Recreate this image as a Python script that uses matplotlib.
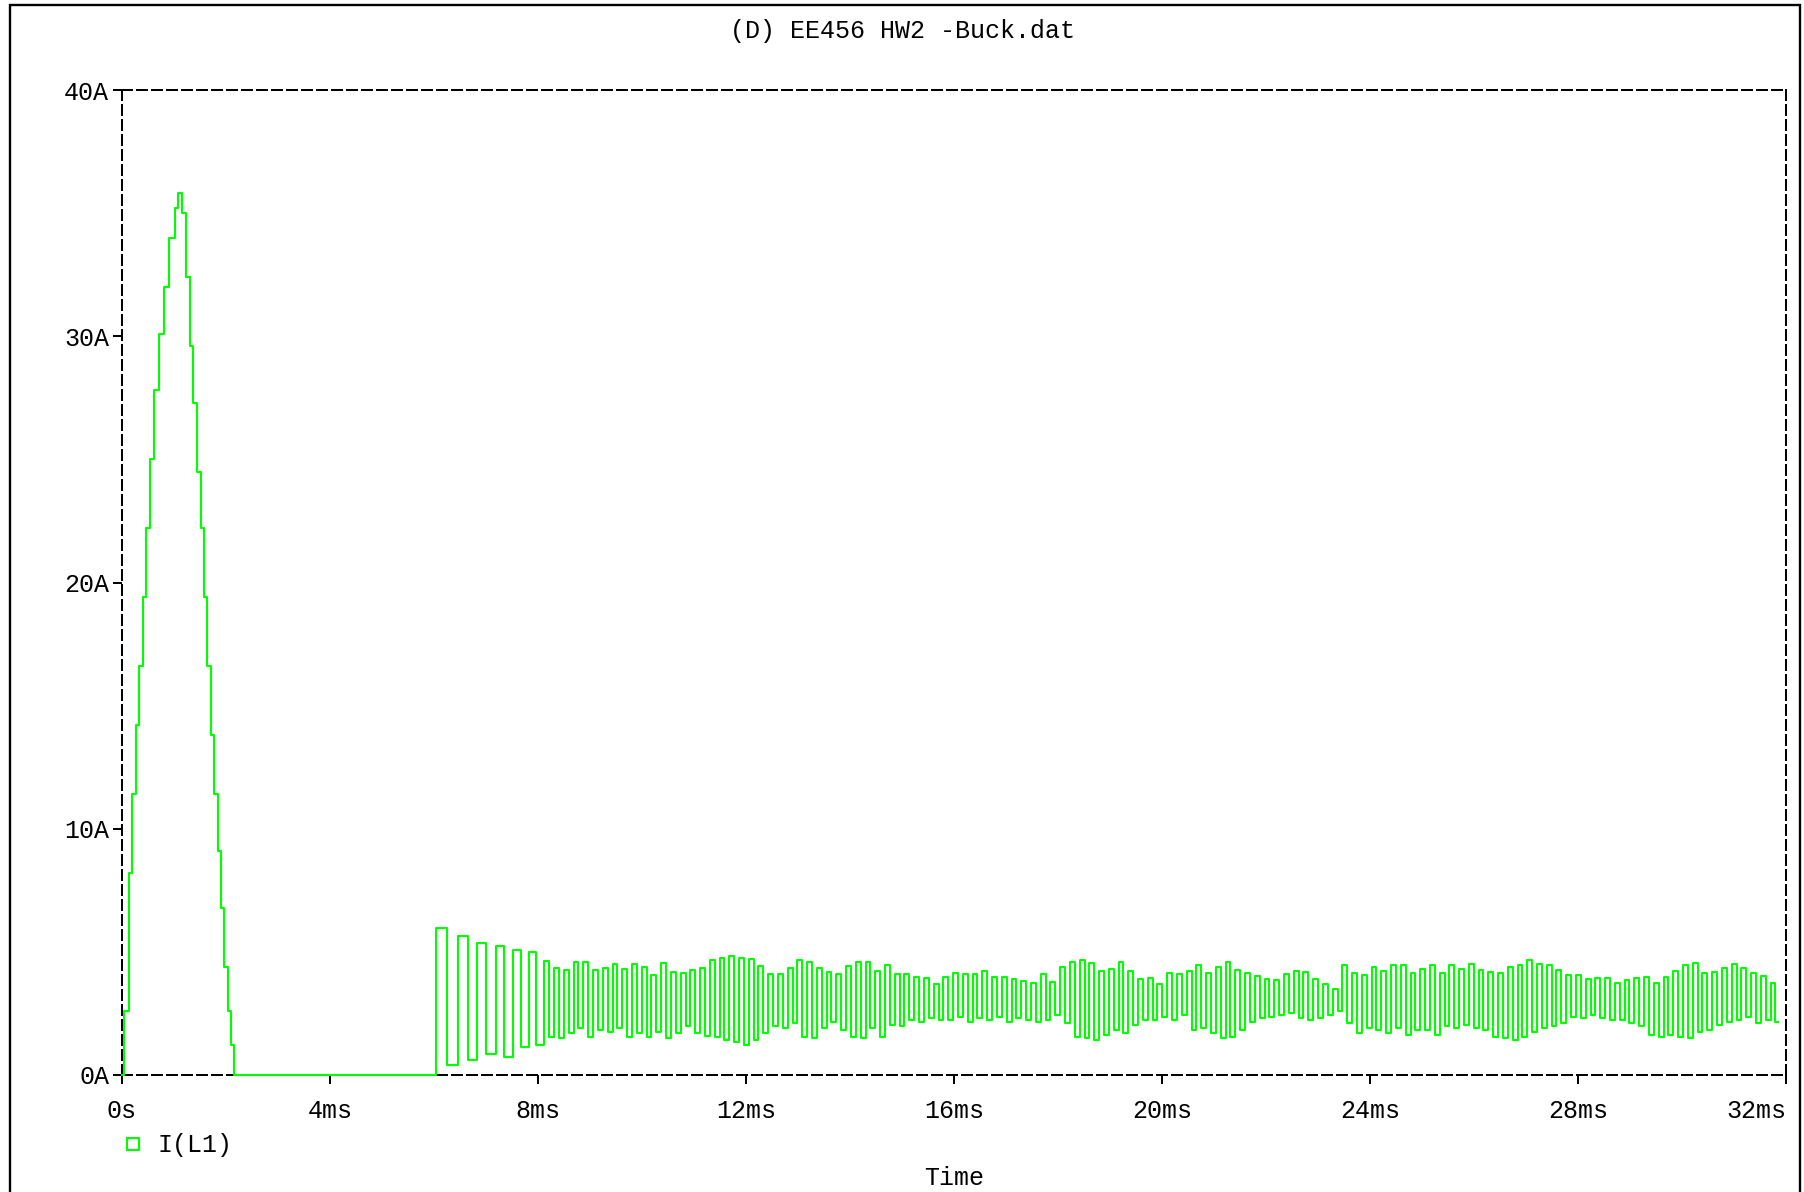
import numpy as np
import matplotlib
matplotlib.use("Agg")
import matplotlib.pyplot as plt
from matplotlib.lines import Line2D
from matplotlib.patches import Rectangle

plt.rcParams['font.family'] = ['Liberation Mono', 'DejaVu Sans Mono']

# start-up current spike (ms, A)
spike_t = [0.0, 0.044, 0.133, 0.20, 0.27, 0.33, 0.40, 0.47, 0.53, 0.62, 0.71,
           0.80, 0.91, 1.02, 1.085, 1.15, 1.24, 1.31, 1.37, 1.44, 1.51, 1.57,
           1.64, 1.71, 1.77, 1.84, 1.90, 1.97, 2.04, 2.10, 2.15]
spike_i = [0.0, 2.6, 8.2, 11.4, 14.2, 16.6, 19.4, 22.2, 25.0, 27.8, 30.1,
           32.0, 34.0, 35.2, 35.8, 35.0, 32.4, 29.6, 27.3, 24.5, 22.2, 19.4,
           16.6, 13.8, 11.4, 9.1, 6.8, 4.4, 2.6, 1.2, 0.0]

# ripple after restart: peak and trough of each cycle (A)
osc_hi = [5.96, 5.65, 5.35, 5.24, 5.08, 4.98, 4.61, 4.33, 4.27, 4.58, 4.58, 4.27,
          4.33, 4.50, 4.31, 4.50, 4.40, 4.07, 4.54, 4.20, 4.13, 4.27, 4.33,
          4.65, 4.74, 4.84, 4.74, 4.70, 4.43, 4.09, 4.09, 4.34, 4.65, 4.57, 4.34,
          4.17, 4.10, 4.43, 4.57, 4.57, 4.24, 4.47, 4.10, 4.09, 4.00, 3.93, 3.68,
          3.97, 4.13, 4.10, 4.10, 4.24, 4.00, 4.00, 3.89, 3.82, 3.75,
          4.09, 3.79, 4.40, 4.57, 4.65, 4.54, 4.24, 4.31, 4.57, 4.24, 3.89, 3.93,
          3.70, 4.16, 4.09, 4.24, 4.47, 4.16, 4.40, 4.57, 4.27, 4.16, 4.02, 3.89,
          3.86, 4.09, 4.24, 4.17, 3.89, 3.70, 3.48, 4.47, 4.16, 4.06, 4.40, 4.24, 4.47,
          4.47, 4.13, 4.29, 4.47, 4.13, 4.47, 4.29, 4.51, 4.27, 4.20, 4.13, 4.40,
          4.47, 4.65, 4.51, 4.47, 4.27, 4.06, 4.06, 3.89, 3.93, 3.93, 3.75, 3.86,
          3.93, 4.00, 3.75, 3.97, 4.24, 4.47, 4.54, 4.13, 4.20, 4.34, 4.51, 4.34,
          4.13, 4.02, 3.75]
osc_lo = [0.40, 0.60, 0.85, 0.74, 1.15, 1.22, 1.56, 1.49, 1.69, 1.90, 1.56, 1.83,
          1.76, 1.90, 1.56, 1.69, 1.56, 1.76, 1.49, 1.69, 1.97, 1.69, 1.60,
          1.56, 1.42, 1.35, 1.22, 1.42, 1.69, 1.97, 1.90, 2.10, 1.56, 1.49, 1.90,
          2.17, 1.83, 1.56, 1.49, 1.90, 1.56, 2.03, 1.97, 2.24, 2.17, 2.30, 2.24,
          2.24, 2.37, 2.17, 2.30, 2.24, 2.37, 2.17, 2.30, 2.24, 2.17,
          2.24, 2.44, 2.10, 1.56, 1.49, 1.42, 1.63, 1.83, 1.69, 2.03, 2.24, 2.24,
          2.37, 2.24, 2.44, 1.83, 1.90, 1.69, 1.49, 1.56, 1.83, 2.17, 2.30, 2.37,
          2.44, 2.51, 2.30, 2.24, 2.30, 2.44, 2.58, 2.10, 1.69, 1.90, 1.83, 1.69, 1.90,
          1.63, 1.83, 1.83, 1.63, 1.97, 1.90, 2.03, 1.90, 1.83, 1.56, 1.49, 1.42,
          1.56, 1.76, 1.90, 1.97, 2.10, 2.37, 2.30, 2.44, 2.30, 2.24, 2.24, 2.10,
          1.97, 1.63, 1.56, 1.63, 1.56, 1.49, 1.76, 1.83, 2.03, 2.17, 2.24, 2.37,
          2.10, 2.24, 2.17]
early_peak_t = [6.15, 6.56, 6.92, 7.27, 7.59, 7.90, 8.17]
t_end = 31.85

x_ticks = [0, 4, 8, 12, 16, 20, 24, 28, 32]
x_labels = ['0s', '4ms', '8ms', '12ms', '16ms', '20ms', '24ms', '28ms', '32ms']
y_ticks = [0, 10, 20, 30, 40]
y_labels = ['0A', '10A', '20A', '30A', '40A']

# build the trace
n = len(osc_hi)
peaks = np.concatenate([early_peak_t,
                        np.linspace(early_peak_t[-1], 31.75, n - len(early_peak_t) + 1)[1:]])
per = np.append(np.diff(peaks), np.diff(peaks)[-1])
t_all = list(spike_t)
i_all = list(spike_i)
for k in range(n):
    t_all += [peaks[k] - per[k] / 4, peaks[k] + per[k] / 4]
    i_all += [osc_hi[k], osc_lo[k]]
t_all.append(t_end)
i_all.append(osc_lo[-1])

W, H = 1804, 1192
fig = plt.figure(figsize=(W / 100, H / 100), dpi=100)
ax = fig.add_axes([122 / W, 1 - 1075 / H, (1786 - 122) / W, (1075 - 90) / H])

ax.step(t_all, i_all, where='post', color='#00ff00', lw=1.5, clip_on=False, zorder=3)

ax.set_xlim(0, 32)
ax.set_ylim(0, 40)
for s in ax.spines.values():
    s.set_linestyle((0, (5, 2.5)))
    s.set_linewidth(1.44)

ax.set_xticks(x_ticks)
ax.set_xticklabels(x_labels)
ax.set_yticks(y_ticks)
ax.set_yticklabels(y_labels)
ax.tick_params(axis='both', direction='out', length=6.2, width=1.44, labelsize=18,
               colors='black')
ax.tick_params(axis='x', pad=11)
ax.tick_params(axis='y', pad=3)
ax.get_xticklabels()[-1].set_ha('right')
ax.get_xticklabels()[-1].set_x(32)

# outer frame
fig.add_artist(Rectangle((10 / W, -0.05), (1800 - 10) / W, 1.05 - 5 / H,
                         transform=fig.transFigure, fill=False, lw=1.7,
                         edgecolor='black', clip_on=False))

fig.text(0.5, 1 - 31 / H, '(D) EE456 HW2 -Buck.dat', ha='center', va='center', fontsize=18)
fig.text(954 / W, 1 - 1178 / H, 'Time', ha='center', va='center', fontsize=18)

# legend
fig.add_artist(Line2D([133 / W], [1 - 1144 / H], marker='s', ms=9, mfc='none',
                      mec='#00ff00', mew=1.5, ls='none', transform=fig.transFigure))
fig.text(157 / W, 1 - 1145 / H, 'I(L1)', ha='left', va='center', fontsize=18)

fig.savefig('out.png', dpi=100)
